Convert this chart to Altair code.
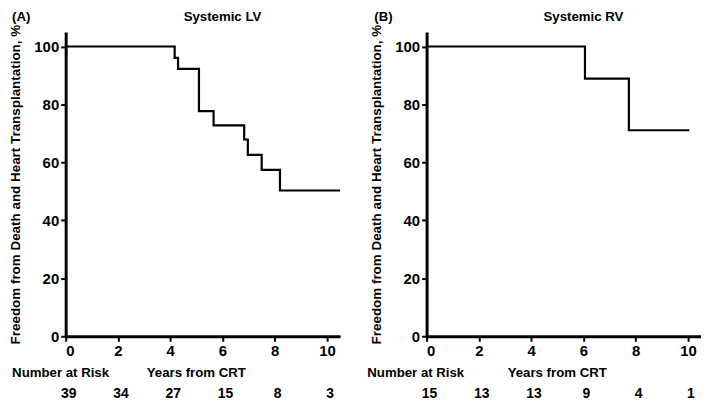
import altair as alt
import pandas as pd

# ---- data ----
year_ticks = [0, 2, 4, 6, 8, 10]
pct_ticks = [0, 20, 40, 60, 80, 100]

lv_time = [0, 4.17, 4.30, 5.10, 5.66, 6.83, 6.97, 7.50, 8.20, 10.5]
lv_surv = [100, 96.1, 92.3, 77.7, 72.8, 67.9, 62.6, 57.4, 50.3, 50.3]
lv_risk = ["39", "34", "27", "15", "8", "3"]

rv_time = [0, 6.06, 7.74, 10.05]
rv_surv = [100, 88.9, 71.1, 71.1]
rv_risk = ["15", "13", "13", "9", "4", "1"]

FONT = "Liberation Sans"
W, H = 276, 306


def panel(letter, name, times, surv, risk, letter_x, nar_x):
    xs = alt.Scale(domain=[0, 10.5], nice=False, zero=False)
    ys = alt.Scale(domain=[0, 105], nice=False)

    curve = pd.DataFrame({"t": times, "s": surv})
    line = alt.Chart(curve).mark_line(
        interpolate="step-after", color="black", strokeWidth=2.2
    ).encode(
        x=alt.X("t:Q", scale=xs, axis=alt.Axis(values=year_ticks, title=None, format="d")),
        y=alt.Y("s:Q", scale=ys, axis=alt.Axis(
            values=pct_ticks, format="d",
            title="Freedom from Death and Heart Transplantation, %")),
    )

    risk_df = pd.DataFrame({"t": year_ticks, "n": risk, "y": [-19.8] * len(risk)})
    risk_txt = alt.Chart(risk_df).mark_text(
        font=FONT, fontWeight="bold", fontSize=14, color="black", dx=3
    ).encode(x=alt.X("t:Q", scale=xs), y=alt.Y("y:Q", scale=ys), text="n:N")

    ann = pd.DataFrame({
        "t": [letter_x, 6.0, nar_x, 5.0],
        "y": [110.3, 110.3, -12.6, -12.6],
        "label": [letter, name, "Number at Risk", "Years from CRT"],
        "al": ["left", "center", "left", "center"],
    })
    ann_left = alt.Chart(ann[ann["al"] == "left"]).mark_text(
        font=FONT, fontWeight="bold", fontSize=13.3, color="black", align="left"
    ).encode(x=alt.X("t:Q", scale=xs), y=alt.Y("y:Q", scale=ys), text="label:N")
    ann_center = alt.Chart(ann[ann["al"] == "center"]).mark_text(
        font=FONT, fontWeight="bold", fontSize=13.3, color="black", align="center"
    ).encode(x=alt.X("t:Q", scale=xs), y=alt.Y("y:Q", scale=ys), text="label:N")

    return alt.layer(line, risk_txt, ann_left, ann_center).properties(width=W, height=H)


chart = alt.hconcat(
    panel("(A)", "Systemic LV", lv_time, lv_surv, lv_risk, -2.05, -2.05),
    panel("(B)", "Systemic RV", rv_time, rv_surv, rv_risk, -2.0, -2.27),
    spacing=22,
).properties(
    padding=0, background="white"
).configure_view(stroke=None).configure_axis(
    grid=False,
    domainColor="black", domainWidth=3,
    tickColor="black", tickWidth=2, tickSize=5,
    labelFont=FONT, labelFontSize=15, labelFontWeight="bold", labelColor="black",
    labelPadding=2, labelOverlap=False,
    titleFont=FONT, titleFontSize=13.5, titleFontWeight="bold", titleColor="black",
    titlePadding=11,
)

chart.save("out.html", embed_options={"renderer": "svg", "actions": False})
